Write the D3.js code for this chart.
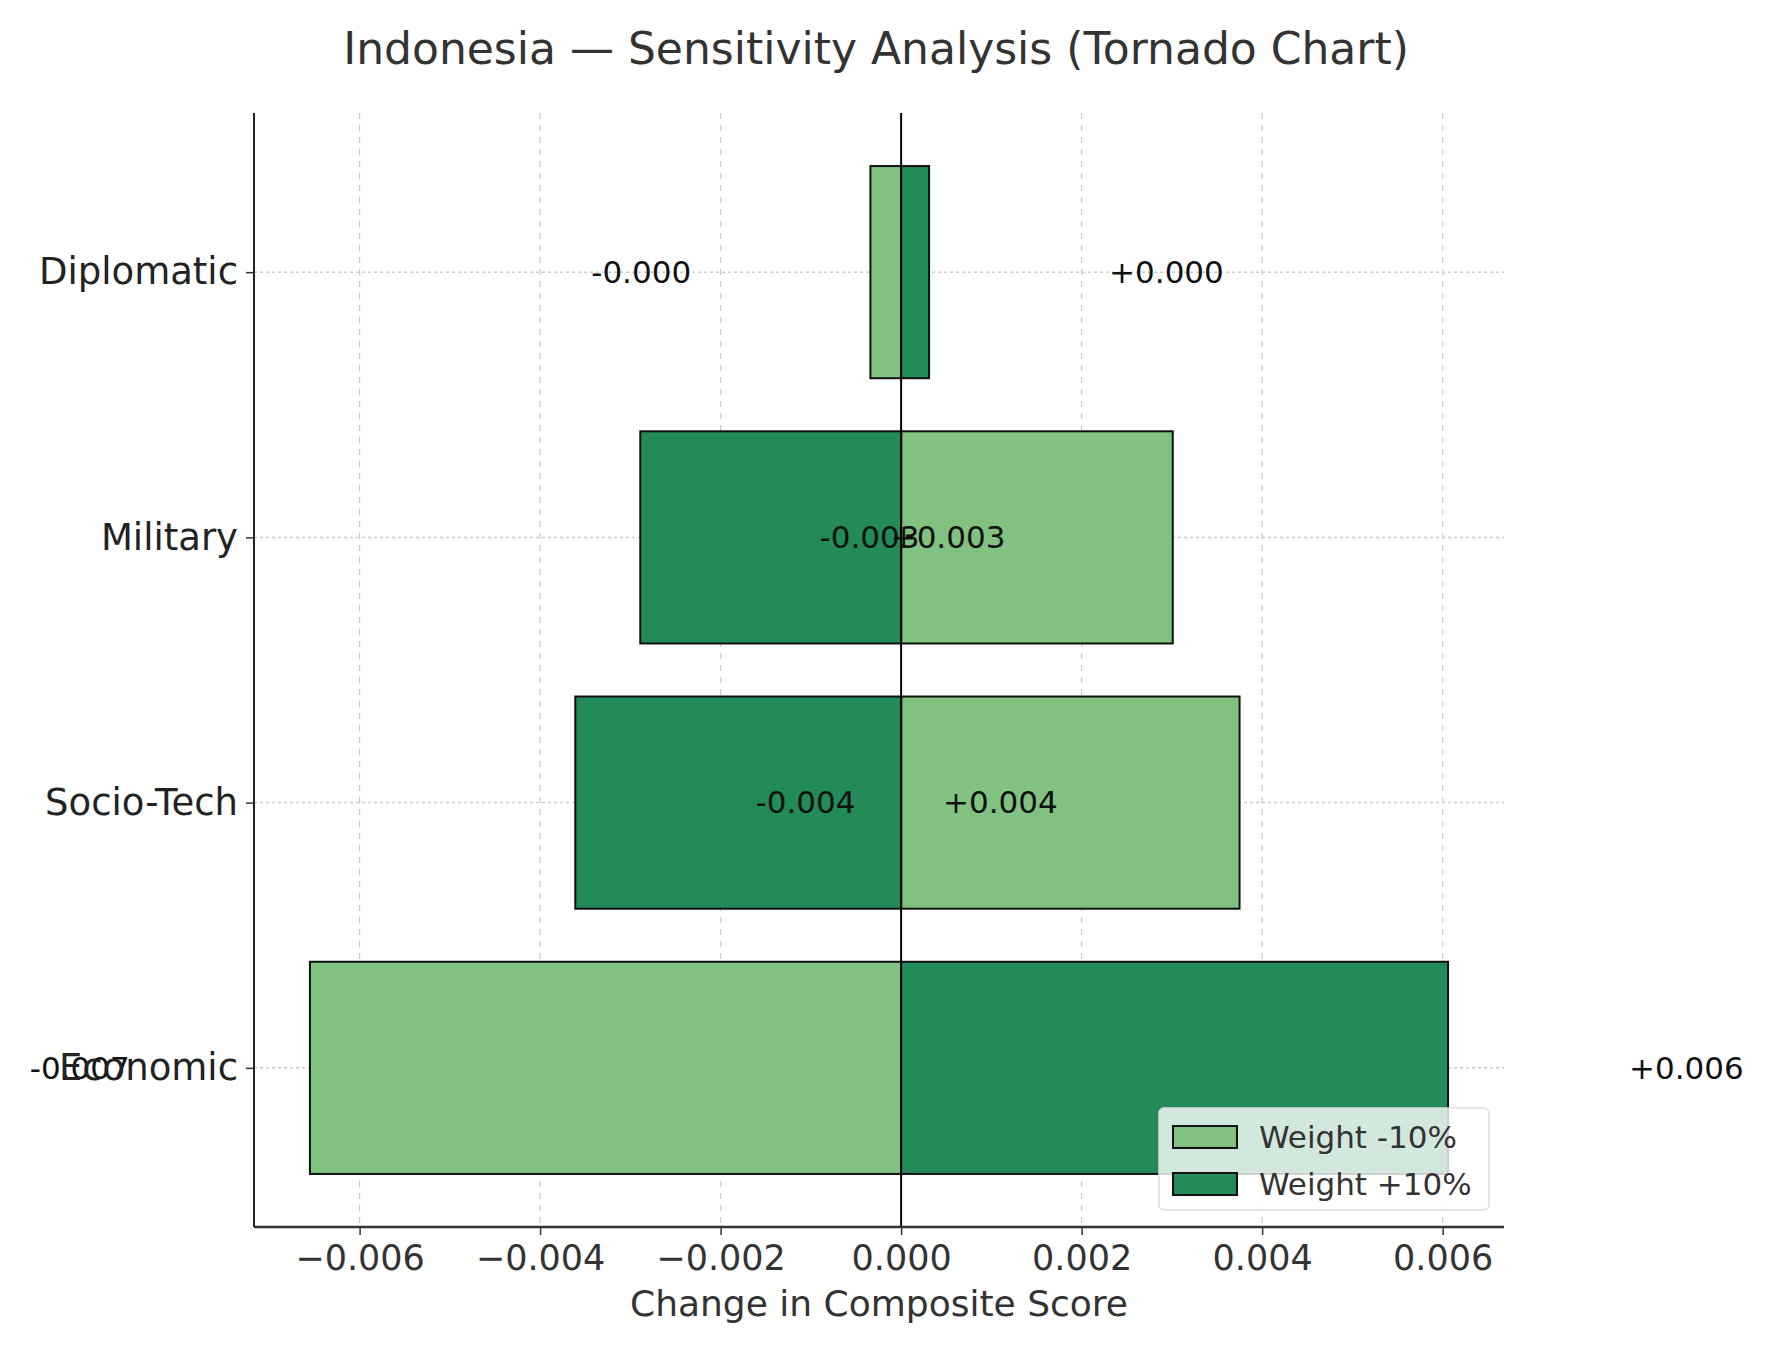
<!DOCTYPE html><html><head><meta charset="utf-8"><script src="https://cdn.jsdelivr.net/npm/d3@7"></script>
<style>body{margin:0;background:#fff}text{font-family:"DejaVu Sans",sans-serif}</style></head><body>
<svg id="c" width="1771" height="1346"></svg>
<script>
const categories=["Economic","Socio-Tech","Military","Diplomatic"];
const minusVals=[-0.00655,0.00375,0.00301,-0.00034]; // Weight -10%
const plusVals=[0.00606,-0.00361,-0.00289,0.00031];  // Weight +10%
const minusLabels=["-0.007","+0.004","+0.003","-0.000"];
const plusLabels=["+0.006","-0.004","-0.003","+0.000"];
const minusLabelX=[-0.0091,0.0011,0.00052,-0.00288];
const plusLabelX=[0.0087,-0.00106,-0.00035,0.00294];
const xTicks=[-0.006,-0.004,-0.002,0,0.002,0.004,0.006];
const svg=d3.select("#c");
const L=254,R=1504,T=113,B=1227;
const x=d3.scaleLinear().domain([-0.00717,0.00668]).range([L,R]);
const y=d3.scaleLinear().domain([-0.6,3.6]).range([B,T]);
const bh=y(0)-y(0.8);
const light="#81c281",dark="#238b57";
const g=svg.append("g");
xTicks.forEach(t=>g.append("line").attr("x1",x(t)).attr("x2",x(t)).attr("y1",T).attr("y2",B).attr("stroke","#ccc").attr("stroke-dasharray","6,6").attr("stroke-width",1.2));
categories.forEach((c,i)=>g.append("line").attr("x1",L).attr("x2",R).attr("y1",y(i)).attr("y2",y(i)).attr("stroke","#ccc").attr("stroke-dasharray","3,3").attr("stroke-width",1.5));
function bars(vals,col){vals.forEach((v,i)=>g.append("rect").attr("x",Math.min(x(0),x(v))).attr("width",Math.abs(x(v)-x(0))).attr("y",y(i)-bh/2).attr("height",bh).attr("fill",col).attr("stroke","#111").attr("stroke-width",2));}
bars(minusVals,light);bars(plusVals,dark);
g.append("line").attr("x1",x(0)).attr("x2",x(0)).attr("y1",T).attr("y2",B).attr("stroke","#000").attr("stroke-width",2);
function labs(lbl,pos){lbl.forEach((t,i)=>g.append("text").attr("x",x(pos[i])).attr("y",y(i)).attr("dy","0.35em").attr("text-anchor","middle").attr("font-size",31).attr("fill","#111").text(t));}
labs(minusLabels,minusLabelX);labs(plusLabels,plusLabelX);
const xa=svg.append("g").attr("transform",`translate(0,${B})`).call(d3.axisBottom(x).tickValues(xTicks).tickSize(8).tickPadding(10).tickFormat(d=>d3.format(".3f")(d).replace("-","\u2212")));
xa.select(".domain").attr("stroke","#333").attr("stroke-width",2.5).attr("d",`M${L},0H${R}`);
xa.selectAll("text").attr("font-size",35).attr("fill","#333");
xa.selectAll("line").attr("stroke","#333").attr("stroke-width",1.5);
const ya=svg.append("g").attr("transform",`translate(${L},0)`).call(d3.axisLeft(y).tickValues([0,1,2,3]).tickSize(8).tickPadding(8).tickFormat(i=>categories[i]));
ya.select(".domain").attr("stroke","#222").attr("stroke-width",2).attr("d",`M0,${T}V${B}`);
ya.selectAll("text").attr("font-size",37).attr("fill","#222");
ya.selectAll("line").attr("stroke","#333").attr("stroke-width",1.5);
svg.append("text").attr("x",(L+R)/2).attr("y",1316).attr("text-anchor","middle").attr("font-size",36).attr("fill","#333").text("Change in Composite Score");
svg.append("text").attr("x",876).attr("y",64).attr("text-anchor","middle").attr("font-size",44).attr("fill","#333").text("Indonesia \u2014 Sensitivity Analysis (Tornado Chart)");
const lg=svg.append("g").attr("transform","translate(1159,1108)");
lg.append("rect").attr("width",330).attr("height",102).attr("rx",5).attr("fill","rgba(255,255,255,0.8)").attr("stroke","#ddd").attr("stroke-width",1.5);
[["Weight -10%",light],["Weight +10%",dark]].forEach((d,i)=>{lg.append("rect").attr("x",14).attr("y",18+i*47).attr("width",64).attr("height",22).attr("fill",d[1]).attr("stroke","#111").attr("stroke-width",2);
lg.append("text").attr("x",100).attr("y",29+i*47).attr("dy","0.35em").attr("font-size",31).attr("fill","#333").text(d[0]);});
</script></body></html>
